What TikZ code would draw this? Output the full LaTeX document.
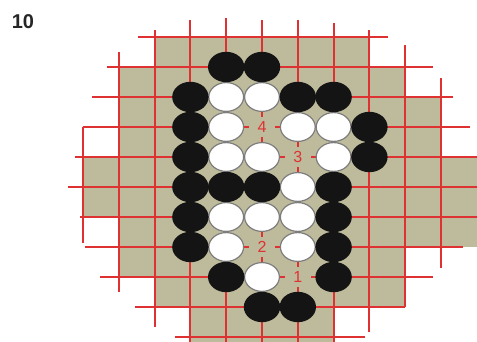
\documentclass[tikz,border=0pt]{standalone}
\usepackage{fontspec}
\setmainfont{Liberation Sans}
\usepackage{xcolor}
\usepackage{tikz}
\definecolor{boardkhaki}{RGB}{190,187,156}
\definecolor{gridred}{RGB}{222,50,50}
\definecolor{rimgray}{RGB}{125,125,125}

\begin{document}
\begin{tikzpicture}[x=35.8pt,y=-30pt,
    gridline/.style={gridred,line width=2pt},
    blackstone/.style={fill=black!92},
    whitestone/.style={fill=white,draw=rimgray,line width=1.2pt},
    movelabel/.style={fill=boardkhaki,text=gridred,inner sep=0pt,minimum width=26pt,minimum height=20pt,font=\fontsize{16}{16}\selectfont}]
        \useasboundingbox (-2.3184,-1.2333) rectangle (11.0056,10.1667);
        % board cells, row by row
        \foreach \r/\a/\b in {0/2/8,1/1/9,2/1/10,3/1/10,4/0/11.0056,5/0/11.0056,6/1/11.0056,7/1/9,8/2/9,9/3/7}{\fill[boardkhaki] (\a,\r) rectangle (\b,\r+1);}
        \fill[boardkhaki] (3,10) rectangle (7,10.1667);
        % grid lines
        \foreach \r/\a/\b in {0/1.54/8.53,1/0.67/9.78,2/0.25/10.34,3/0/10.8,4/-0.22/11,5/-0.42/11,6/-0.08/11,7/0.05/10.62,8/0.48/9.78,9/1.45/9,10/2.57/7.88}{\draw[gridline] (\a,\r) -- (\b,\r);}
        \foreach \c/\a/\b in {0/3/6.87,1/0.5/8.5,2/-0.23/9.67,3/-0.57/10.16,4/-0.63/10.16,5/-0.57/10.16,6/-0.57/10.16,7/-0.47/10.16,8/-0.23/9.83,9/0.27/9,10/1.37/7.7}{\draw[gridline] (\c,\a) -- (\c,\b);}
        % stones
        \foreach \c/\r in {4/2,5/2,4/3,6/3,7/3,4/4,5/4,7/4,6/5,4/6,5/6,6/6,4/7,6/7,5/8}{\filldraw[whitestone] (\c,\r) ellipse [x radius=17.4pt,y radius=14.4pt];}
        \foreach \c/\r in {4/1,5/1,3/2,6/2,7/2,3/3,8/3,3/4,8/4,3/5,4/5,5/5,7/5,3/6,7/6,3/7,7/7,4/8,7/8,5/9,6/9}{\fill[blackstone] (\c,\r) ellipse [x radius=18.2pt,y radius=15.2pt];}
        % numbered moves
        \node[movelabel] (m1) at (6,8) {1};
        \node[movelabel] (m2) at (5,7) {2};
        \node[movelabel] (m3) at (6,4) {3};
        \node[movelabel] (m4) at (5,3) {4};
        \node[text=black!85,font=\fontsize{20}{20}\selectfont\bfseries] (fig) at (-1.676,-0.5) {10};
    \end{tikzpicture}
\end{document}
